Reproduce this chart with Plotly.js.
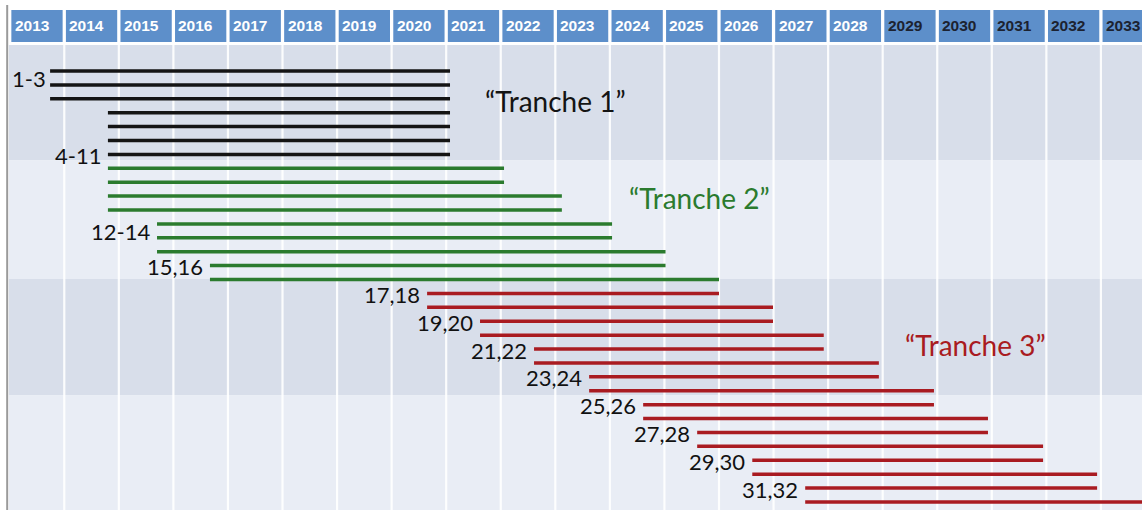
<!DOCTYPE html>
<html>
<head>
<meta charset="utf-8">
<script src="https://cdn.plot.ly/plotly-3.0.1.min.js"></script>
<style>html,body{margin:0;padding:0;background:#fff;}#chart{width:1142px;height:510px;}</style>
</head>
<body>
<div id="chart"></div>
<script>
// ---- data ----
const years = [2013,2014,2015,2016,2017,2018,2019,2020,2021,2022,2023,2024,2025,2026,2027,2028,2029,2030,2031,2032,2033];
const items = [1,2,3,4,5,6,7,8,9,10,11,12,13,14,15,16,17,18,19,20,21,22,23,24,25,26,27,28,29,30,31,32];
const starts = [2013.74,2013.74,2013.74,
  2014.80,2014.80,2014.80,2014.80,2014.80,2014.80,2014.80,2014.80,
  2015.70,2015.70,2015.70,
  2016.67,2016.67,
  2020.65,2020.65,2021.62,2021.62,2022.61,2022.61,2023.62,2023.62,
  2024.61,2024.61,2025.60,2025.60,2026.61,2026.61,2027.58,2027.58];
const ends = [2021.07,2021.07,2021.07,2021.07,2021.07,2021.07,2021.07,
  2022.06,2022.06,2023.12,2023.12,2024.04,2024.04,2025.02,2025.02,2026.00,
  2026.00,2026.99,2026.99,2027.92,2027.92,2028.93,2028.93,2029.94,2029.94,
  2030.93,2030.93,2031.94,2031.94,2032.93,2032.93,2034.00];
const tranche = [1,1,1,1,1,1,1, 2,2,2,2,2,2,2,2,2, 3,3,3,3,3,3,3,3,3,3,3,3,3,3,3,3];
const groupLabels = ['1-3','4-11','12-14','15,16','17,18','19,20','21,22','23,24','25,26','27,28','29,30','31,32'];
const groupRow    = [1.5, 7, 12.5, 15, 17, 19, 21, 23, 25, 27, 29, 31];
const groupStartItem = [1, 7, 12, 15, 17, 19, 21, 23, 25, 27, 29, 31];
const trancheNames = ['\u201cTranche 1\u201d','\u201cTranche 2\u201d','\u201cTranche 3\u201d'];
const trancheLabelX = [2023.01, 2025.64, 2030.70];
const trancheLabelY = [3.16, 10.17, 20.71];

// ---- style ----
const trancheColors = {1:'#141414', 2:'#2b7b2e', 3:'#a91b21'};
const headerBlue = '#5d8fca';
const bandDark = '#d8deea';
const bandLight = '#e9edf5';
const bandEdges = [-0.87, 7.44, 15.96, 24.34, 33];
const headerTop = -3.39, headerBottom = -1.09;

// ---- traces ----
const traces = [];
[1,2,3].forEach(t => {
  const xs = [], ys = [];
  items.forEach((it, i) => {
    if (tranche[i] !== t) return;
    xs.push(starts[i], ends[i], null);
    ys.push(it, it, null);
  });
  traces.push({type:'scatter', mode:'lines', x:xs, y:ys, hoverinfo:'skip',
    line:{color:trancheColors[t], width:3.5}, showlegend:false});
});

// ---- shapes ----
const shapes = [];
for (let b = 0; b < bandEdges.length - 1; b++) {
  shapes.push({type:'rect', layer:'below', xref:'x', yref:'y',
    x0:2012.985, x1:2034.5, y0:bandEdges[b], y1:bandEdges[b+1],
    fillcolor: b % 2 === 0 ? bandDark : bandLight, line:{width:0}});
}
years.forEach(y => {
  if (y > years[0]) shapes.push({type:'line', layer:'below', xref:'x', yref:'y',
    x0:y, x1:y, y0:bandEdges[0], y1:33, line:{color:'rgba(255,255,255,0.9)', width:2.2}});
  shapes.push({type:'rect', layer:'below', xref:'x', yref:'y',
    x0:y + 0.03, x1:y + 0.97, y0:headerTop, y1:headerBottom,
    fillcolor:headerBlue, line:{width:0}});
});
shapes.push({type:'line', xref:'paper', yref:'paper', x0:0.0063, x1:0.0063, y0:0, y1:0.99,
  line:{color:'#9a9a9a', width:2}});

// ---- annotations ----
const annotations = [];
years.forEach(y => {
  annotations.push({x:y, y:(headerTop + headerBottom)/2, xref:'x', yref:'y', text:String(y),
    showarrow:false, xanchor:'left', yanchor:'middle', xshift:3,
    font:{family:'Liberation Sans, Arial, sans-serif', size:15.5, color: y >= 2029 ? '#1c2230' : '#ffffff', weight:'bold'}});
});
groupLabels.forEach((lab, g) => {
  const idx = items.indexOf(groupStartItem[g]);
  annotations.push({x:starts[idx], y:groupRow[g], xref:'x', yref:'y', text:lab, showarrow:false,
    xanchor:'right', yanchor:'middle', xshift: g === 0 ? -2 : -5, yshift:-1,
    font:{family:'Lato, Noto Sans, sans-serif', size:22, color:'#111111'}});
});
trancheNames.forEach((t, i) => {
  annotations.push({x:trancheLabelX[i], y:trancheLabelY[i], xref:'x', yref:'y', text:t, showarrow:false,
    xanchor:'center', yanchor:'middle',
    font:{family:'Lato, Noto Sans, sans-serif', size:28, color:trancheColors[i+1]}});
});

const layout = {
  width:1142, height:510,
  margin:{l:0, r:0, t:0, b:0, pad:0},
  paper_bgcolor:'#ffffff', plot_bgcolor:'#ffffff',
  xaxis:{range:[2012.822, 2033.753], visible:false, fixedrange:true},
  yaxis:{range:[32.58, -4.108], visible:false, fixedrange:true},
  shapes:shapes, annotations:annotations, showlegend:false
};
Plotly.newPlot('chart', traces, layout, {displayModeBar:false, staticPlot:true});
</script>
</body>
</html>
